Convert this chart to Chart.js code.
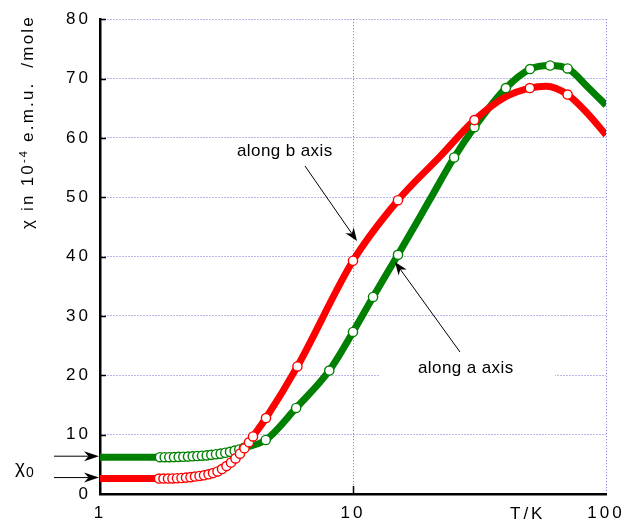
<!DOCTYPE html>
<html>
<head>
<meta charset="utf-8">
<script src="https://cdn.jsdelivr.net/npm/chart.js@4.4.1/dist/chart.umd.min.js"></script>
<style>
  html, body { margin: 0; padding: 0; background: #fff; }
  #wrap { width: 644px; height: 526px; }
</style>
</head>
<body>
<div id="wrap"><canvas id="chart" width="644" height="526"></canvas></div>
<script>
// tick labels
const xTicks = [1, 10, 100];
const yTicks = [0, 10, 20, 30, 40, 50, 60, 70, 80];

// measured points, along b axis (red)
const redT = [1.711, 1.782, 1.857, 1.934, 2.015, 2.100, 2.187, 2.279, 2.374, 2.474, 2.577,
              2.685, 2.797, 2.914, 3.035, 3.162, 3.295, 3.432, 3.576, 3.725, 3.881, 4.025,
              4.53, 6.03, 10, 15.06, 30.2, 50, 70.5];
const redChi = [2.6, 2.6, 2.6, 2.62, 2.65, 2.7, 2.76, 2.84, 2.94, 3.04, 3.15,
                3.32, 3.52, 3.8, 4.2, 4.7, 5.3, 6.0, 6.8, 7.7, 8.7, 9.7,
                12.8, 21.5, 39.3, 49.5, 63, 68.4, 67.3];

// measured points, along a axis (green)
const greenT = [1.726, 1.802, 1.879, 1.961, 2.047, 2.135, 2.228, 2.325, 2.425, 2.530,
                2.641, 2.754, 2.874, 2.999, 3.128, 3.265, 3.407, 3.553, 3.709,
                4.52, 5.96, 8.06, 10, 12, 15.06, 25.1, 30.2, 40.2, 50.1, 60.1, 70.5];
const greenChi = [6.2, 6.2, 6.2, 6.22, 6.25, 6.28, 6.3, 6.35, 6.4, 6.45,
                  6.5, 6.6, 6.7, 6.8, 6.95, 7.1, 7.3, 7.5, 7.8,
                  9.1, 14.5, 20.8, 27.3, 33.2, 40.3, 56.7, 61.8, 68.4, 71.6, 72.2, 71.7];

// smooth curves drawn through the data
const redLineT = [1, 1.711, 2.1, 2.577, 3.035, 3.432, 3.725, 4.025, 4.53, 6.03, 10, 15.06,
                  22, 30.2, 40, 50, 58, 70.5, 85, 100];
const redLineChi = [2.6, 2.6, 2.7, 3.15, 4.2, 6.0, 7.7, 9.7, 12.8, 21.5, 39.3, 49.5,
                    56.8, 63, 66.9, 68.4, 68.7, 67.3, 64, 60.5];
const greenLineT = [1, 1.726, 2.135, 2.641, 3.128, 3.407, 3.709, 4.52, 5.96, 8.06, 10, 12,
                    15.06, 20, 25.1, 30.2, 40.2, 50.1, 60.1, 70.5, 85, 100];
const greenLineChi = [6.2, 6.2, 6.28, 6.5, 6.95, 7.3, 7.8, 9.1, 14.5, 20.8, 27.3, 33.2,
                      40.3, 49.4, 56.7, 61.8, 68.4, 71.6, 72.2, 71.7, 68.5, 65.5];

const RED = 'rgb(255,0,0)';
const GREEN = 'rgb(0,128,0)';
const GRID = 'rgb(110,110,215)';
const FONT = '"Liberation Sans", Arial, Helvetica, sans-serif';

function pts(xs, ys) {
    return xs.map((x, i) => ({ x: x, y: ys[i] }));
}

function arrow(ctx, x1, y1, x2, y2, len, half) {
    const dx = x2 - x1, dy = y2 - y1;
    const d = Math.sqrt(dx * dx + dy * dy);
    const ux = dx / d, uy = dy / d;
    const px = -uy, py = ux;
    const bx = x2 - ux * len, by = y2 - uy * len;
    const nx = x2 - ux * len * 0.7, ny = y2 - uy * len * 0.7;
    ctx.strokeStyle = '#000';
    ctx.lineWidth = 1;
    ctx.beginPath();
    ctx.moveTo(x1, y1);
    ctx.lineTo(nx, ny);
    ctx.stroke();
    ctx.fillStyle = '#000';
    ctx.beginPath();
    ctx.moveTo(x2, y2);
    ctx.lineTo(bx + px * half, by + py * half);
    ctx.lineTo(nx, ny);
    ctx.lineTo(bx - px * half, by - py * half);
    ctx.closePath();
    ctx.fill();
}

// wide digit spacing like the original figure
const spacing = {
    id: 'spacing',
    beforeDraw(chart) { chart.ctx.letterSpacing = '3px'; },
    afterDraw(chart) { chart.ctx.letterSpacing = '0px'; }
};

const extras = {
    id: 'extras',
    afterDraw(chart) {
        const ctx = chart.ctx;
        const xs = chart.scales.x, ys = chart.scales.y;
        const area = chart.chartArea;
        ctx.save();

        // ticks on the inside of the axes
        ctx.strokeStyle = '#000';
        ctx.lineWidth = 1.5;
        ctx.beginPath();
        yTicks.slice(1).forEach(v => {
            const y = Math.round(ys.getPixelForValue(v)) + 0.5;
            ctx.moveTo(area.left, y);
            ctx.lineTo(area.left + 6, y);
        });
        const x10 = Math.round(xs.getPixelForValue(10)) + 0.5;
        ctx.moveTo(x10, area.bottom);
        ctx.lineTo(x10, area.bottom - 8);
        ctx.stroke();

        // white box behind the a-axis label
        ctx.fillStyle = '#fff';
        ctx.fillRect(379, 358, 176, 22);

        ctx.fillStyle = '#000';
        ctx.letterSpacing = '0.4px';
        ctx.font = '17px ' + FONT;
        ctx.textBaseline = 'alphabetic';
        ctx.textAlign = 'left';
        ctx.fillText('along b axis', 237, 156);
        ctx.fillText('along a axis', 418, 373);
        arrow(ctx, 305, 166, 357, 241, 13, 5);
        arrow(ctx, 460, 352, 395, 262, 13, 5);

        // chi0 arrows
        const yg = ys.getPixelForValue(greenLineChi[0]) - 1;
        const yr = ys.getPixelForValue(redLineChi[0]) - 1;
        arrow(ctx, 54, yg, area.left - 1, yg, 15, 5);
        arrow(ctx, 54, yr, area.left - 1, yr, 15, 5);
        ctx.letterSpacing = '0px';
        ctx.font = '19px ' + FONT;
        ctx.fillText('χ', 15, 473);
        ctx.font = '14px ' + FONT;
        ctx.fillText('0', 26, 477);

        // T/K label
        ctx.letterSpacing = '3px';
        ctx.font = '17px ' + FONT;
        ctx.textBaseline = 'middle';
        ctx.fillText('T/K', 510, 514);

        // y axis title, rotated
        ctx.letterSpacing = '2.2px';
        ctx.translate(33, 122);
        ctx.rotate(-Math.PI / 2);
        const big = '17px ' + FONT, small = '11px ' + FONT;
        const parts = [['χ in 10', big, 0], ['-4', small, -6], [' e.m.u.  /mole', big, 0]];
        let total = 0;
        parts.forEach(p => { ctx.font = p[1]; total += ctx.measureText(p[0]).width; });
        let cx = -total / 2;
        ctx.textBaseline = 'alphabetic';
        parts.forEach(p => {
            ctx.font = p[1];
            ctx.fillText(p[0], cx, p[2]);
            cx += ctx.measureText(p[0]).width;
        });
        ctx.restore();
    }
};

const chart = new Chart(document.getElementById('chart').getContext('2d'), {
    type: 'scatter',
    data: {
        datasets: [
            {
                label: 'along b axis',
                data: pts(redT, redChi),
                pointRadius: 4.6,
                pointBorderWidth: 1.4,
                pointBackgroundColor: '#fff',
                pointBorderColor: RED,
                order: 1
            },
            {
                label: 'along a axis',
                data: pts(greenT, greenChi),
                pointRadius: 4.6,
                pointBorderWidth: 1.4,
                pointBackgroundColor: '#fff',
                pointBorderColor: GREEN,
                order: 2
            },
            {
                label: 'b curve',
                data: pts(redLineT, redLineChi),
                showLine: true,
                borderColor: RED,
                borderWidth: 7,
                pointRadius: 0,
                cubicInterpolationMode: 'monotone',
                clip: 0,
                order: 3
            },
            {
                label: 'a curve',
                data: pts(greenLineT, greenLineChi),
                showLine: true,
                borderColor: GREEN,
                borderWidth: 7,
                pointRadius: 0,
                cubicInterpolationMode: 'monotone',
                clip: 0,
                order: 4
            }
        ]
    },
    options: {
        responsive: false,
        animation: false,
        layout: { padding: { top: 14, right: 38, left: 0, bottom: 0 } },
        plugins: {
            legend: { display: false },
            tooltip: { enabled: false }
        },
        scales: {
            x: {
                type: 'logarithmic',
                min: 1,
                max: 100,
                afterBuildTicks: scale => { scale.ticks = xTicks.map(v => ({ value: v })); },
                afterFit: scale => { scale.height = 32; },
                ticks: {
                    color: '#000',
                    font: { family: FONT, size: 17 },
                    padding: 9,
                    maxRotation: 0,
                    callback: v => String(v)
                },
                grid: { color: GRID, lineWidth: 1, drawTicks: false },
                border: { color: '#000', width: 2.5, dash: [1, 2] }
            },
            y: {
                min: 0,
                max: 80,
                afterBuildTicks: scale => { scale.ticks = yTicks.map(v => ({ value: v })); },
                afterFit: scale => { scale.width = 100; },
                ticks: {
                    color: '#000',
                    font: { family: FONT, size: 17 },
                    padding: 9
                },
                grid: { color: GRID, lineWidth: 1, drawTicks: false },
                border: { color: '#000', width: 2.5, dash: [1, 2] }
            }
        }
    },
    plugins: [spacing, extras]
});
</script>
</body>
</html>
